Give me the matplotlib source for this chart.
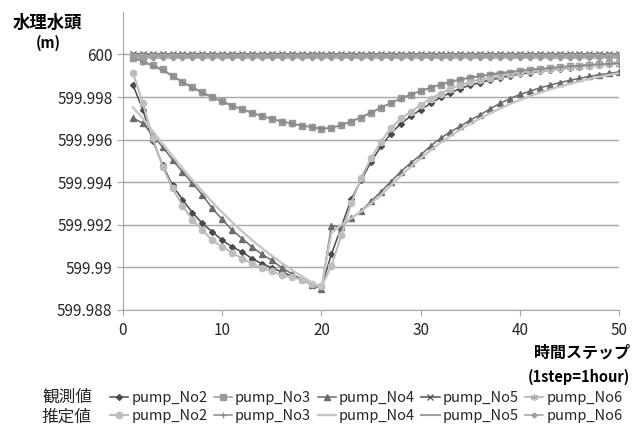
import matplotlib
matplotlib.use("Agg")
import matplotlib.pyplot as plt
from matplotlib.ticker import FuncFormatter

plt.rcParams['font.family'] = ['Noto Sans CJK JP', 'DejaVu Sans']

steps = list(range(1, 51))

obs_no2 = [599.99858, 599.99740, 599.99595, 599.99480, 599.99385, 599.99318, 599.99257, 599.99206, 599.99167, 599.99127,
           599.99096, 599.99072, 599.99041, 599.99017, 599.98998, 599.98978, 599.98959, 599.98943, 599.98923, 599.98907,
           599.99060, 599.99190, 599.99320, 599.99410, 599.99495, 599.99568, 599.99628, 599.99675, 599.99710, 599.99740,
           599.99770, 599.99798, 599.99820, 599.99840, 599.99856, 599.99868, 599.99880, 599.99890, 599.99900, 599.99908,
           599.99915, 599.99921, 599.99927, 599.99932, 599.99937, 599.99942, 599.99946, 599.99950, 599.99954, 599.99957]
est_no2 = [599.99914, 599.99772, 599.99607, 599.99473, 599.99371, 599.99290, 599.99224, 599.99175, 599.99127, 599.99096,
           599.99068, 599.99041, 599.99017, 599.98998, 599.98981, 599.98962, 599.98954, 599.98942, 599.98923, 599.98910,
           599.99005, 599.99150, 599.99300, 599.99419, 599.99513, 599.99590, 599.99653, 599.99700, 599.99730, 599.99762,
           599.99793, 599.99816, 599.99840, 599.99855, 599.99870, 599.99881, 599.99891, 599.99900, 599.99907, 599.99914,
           599.99920, 599.99925, 599.99930, 599.99935, 599.99940, 599.99944, 599.99948, 599.99952, 599.99955, 599.99958]
obs_no3 = [599.99984, 599.99968, 599.99950, 599.99930, 599.99900, 599.99872, 599.99847, 599.99822, 599.99800, 599.99780,
           599.99760, 599.99743, 599.99726, 599.99710, 599.99697, 599.99684, 599.99676, 599.99666, 599.99660, 599.99648,
           599.99655, 599.99667, 599.99684, 599.99703, 599.99725, 599.99749, 599.99772, 599.99794, 599.99811, 599.99827,
           599.99843, 599.99858, 599.99872, 599.99882, 599.99890, 599.99897, 599.99903, 599.99909, 599.99915, 599.99920,
           599.99926, 599.99931, 599.99935, 599.99940, 599.99944, 599.99948, 599.99952, 599.99955, 599.99958, 599.99962]
est_no3 = [599.99986, 599.99966, 599.99946, 599.99925, 599.99898, 599.99870, 599.99844, 599.99820, 599.99798, 599.99778,
           599.99759, 599.99742, 599.99726, 599.99711, 599.99698, 599.99686, 599.99675, 599.99666, 599.99658, 599.99652,
           599.99656, 599.99668, 599.99686, 599.99706, 599.99728, 599.99751, 599.99773, 599.99793, 599.99812, 599.99829,
           599.99845, 599.99859, 599.99872, 599.99883, 599.99892, 599.99900, 599.99907, 599.99913, 599.99919, 599.99924,
           599.99929, 599.99933, 599.99937, 599.99941, 599.99945, 599.99948, 599.99951, 599.99954, 599.99957, 599.99960]
obs_no4 = [599.99700, 599.99678, 599.99620, 599.99565, 599.99505, 599.99448, 599.99395, 599.99340, 599.99277, 599.99225,
           599.99175, 599.99135, 599.99096, 599.99061, 599.99033, 599.98998, 599.98970, 599.98943, 599.98918, 599.98899,
           599.99195, 599.99190, 599.99230, 599.99265, 599.99310, 599.99355, 599.99403, 599.99450, 599.99490, 599.99528,
           599.99570, 599.99606, 599.99637, 599.99662, 599.99692, 599.99716, 599.99745, 599.99770, 599.99793, 599.99812,
           599.99827, 599.99843, 599.99855, 599.99868, 599.99878, 599.99888, 599.99897, 599.99905, 599.99911, 599.99918]
est_no4 = [599.99752, 599.99700, 599.99640, 599.99580, 599.99522, 599.99465, 599.99410, 599.99357, 599.99306, 599.99258,
           599.99212, 599.99169, 599.99128, 599.99090, 599.99054, 599.99020, 599.98988, 599.98958, 599.98930, 599.98905,
           599.99160, 599.99200, 599.99230, 599.99262, 599.99300, 599.99340, 599.99385, 599.99430, 599.99472, 599.99512,
           599.99550, 599.99585, 599.99617, 599.99647, 599.99675, 599.99700, 599.99724, 599.99746, 599.99767, 599.99786,
           599.99804, 599.99820, 599.99835, 599.99849, 599.99862, 599.99874, 599.99885, 599.99895, 599.99904, 599.99912]
obs_no5 = [600.00000, 600.00000, 600.00000, 600.00000, 600.00000, 600.00000, 600.00000, 600.00000, 600.00000, 600.00000,
           600.00000, 600.00000, 600.00000, 600.00000, 600.00000, 600.00000, 600.00000, 600.00000, 600.00000, 600.00000,
           600.00000, 600.00000, 600.00000, 600.00000, 600.00000, 600.00000, 600.00000, 600.00000, 600.00000, 600.00000,
           600.00000, 600.00000, 600.00000, 600.00000, 600.00000, 600.00000, 600.00000, 600.00000, 600.00000, 600.00000,
           600.00000, 600.00000, 600.00000, 600.00000, 600.00000, 600.00000, 600.00000, 600.00000, 600.00000, 600.00000]
obs_no6 = [599.99996, 599.99996, 599.99996, 599.99996, 599.99996, 599.99996, 599.99996, 599.99996, 599.99996, 599.99996,
           599.99996, 599.99996, 599.99996, 599.99996, 599.99996, 599.99996, 599.99996, 599.99996, 599.99996, 599.99996,
           599.99996, 599.99996, 599.99996, 599.99996, 599.99996, 599.99996, 599.99996, 599.99996, 599.99996, 599.99996,
           599.99996, 599.99996, 599.99996, 599.99996, 599.99996, 599.99996, 599.99996, 599.99996, 599.99996, 599.99996,
           599.99996, 599.99996, 599.99996, 599.99996, 599.99996, 599.99996, 599.99996, 599.99996, 599.99996, 599.99996]
est_no5 = [599.99992, 599.99992, 599.99992, 599.99992, 599.99992, 599.99992, 599.99992, 599.99992, 599.99992, 599.99992,
           599.99992, 599.99992, 599.99992, 599.99992, 599.99992, 599.99992, 599.99992, 599.99992, 599.99992, 599.99992,
           599.99992, 599.99992, 599.99992, 599.99992, 599.99992, 599.99992, 599.99992, 599.99992, 599.99992, 599.99992,
           599.99992, 599.99992, 599.99992, 599.99992, 599.99992, 599.99992, 599.99992, 599.99992, 599.99992, 599.99992,
           599.99992, 599.99992, 599.99992, 599.99992, 599.99992, 599.99992, 599.99992, 599.99992, 599.99992, 599.99992]
est_no6 = [599.99985, 599.99985, 599.99985, 599.99985, 599.99985, 599.99985, 599.99985, 599.99985, 599.99985, 599.99985,
           599.99985, 599.99985, 599.99985, 599.99985, 599.99985, 599.99985, 599.99985, 599.99985, 599.99985, 599.99985,
           599.99985, 599.99985, 599.99985, 599.99985, 599.99985, 599.99985, 599.99985, 599.99985, 599.99985, 599.99985,
           599.99985, 599.99985, 599.99985, 599.99985, 599.99985, 599.99985, 599.99985, 599.99985, 599.99985, 599.99985,
           599.99985, 599.99985, 599.99985, 599.99985, 599.99985, 599.99985, 599.99985, 599.99985, 599.99985, 599.99985]

pump_names = ["pump_No2", "pump_No3", "pump_No4", "pump_No5", "pump_No6"]
row_titles = ["観測値", "推定値"]
y_ticks = [599.988, 599.990, 599.992, 599.994, 599.996, 599.998, 600.000]
x_ticks = [0, 10, 20, 30, 40, 50]

fig = plt.figure(figsize=(6.37, 4.25), dpi=100)
ax = fig.add_axes([0.193, 0.271, 0.779, 0.701])

lw = 1.1
h_obs = []
h_est = []
h_obs.append(ax.plot(steps, obs_no2, color="#4a4a4a", lw=lw, marker="D", ms=3, mec="#4a4a4a")[0])
h_obs.append(ax.plot(steps, obs_no3, color="#9a9a9a", lw=lw, marker="s", ms=4.3, mec="#9a9a9a")[0])
h_obs.append(ax.plot(steps, obs_no4, color="#6b6b6b", lw=lw, marker="^", ms=4.5, mec="#6b6b6b")[0])
h_obs.append(ax.plot(steps, obs_no5, color="#505050", lw=lw, marker="x", ms=4, mew=0.9)[0])
h_obs.append(ax.plot(steps, obs_no6, color="#a8a8a8", lw=lw, marker=(6, 2, 0), ms=5, mew=0.9)[0])
h_est.append(ax.plot(steps, est_no2, color="#bdbdbd", lw=lw + 0.4, marker="o", ms=4.5, mec="#bdbdbd")[0])
h_est.append(ax.plot(steps, est_no3, color="#8a8a8a", lw=lw, marker="+", ms=5, mew=0.9)[0])
h_est.append(ax.plot(steps, est_no4, color="#c6c6c6", lw=lw + 0.6)[0])
h_est.append(ax.plot(steps, est_no5, color="#a0a0a0", lw=lw + 0.4)[0])
h_est.append(ax.plot(steps, est_no6, color="#9c9c9c", lw=lw, marker="D", ms=2.5)[0])

ax.set_xlim(0, 50)
ax.set_ylim(599.988, 600.002)
ax.set_xticks(x_ticks)
ax.set_yticks(y_ticks)
ax.yaxis.set_major_formatter(FuncFormatter(lambda v, p: ("%.3f" % v).rstrip("0").rstrip(".")))
ax.grid(axis="y", color="#a6a6a6", lw=1)
ax.set_axisbelow(True)
for s in ["top", "right"]:
    ax.spines[s].set_visible(False)
for s in ["left", "bottom"]:
    ax.spines[s].set_color("#a6a6a6")
ax.tick_params(axis="both", colors="#a6a6a6", labelcolor="#262626", labelsize=11, length=4)
ax.tick_params(axis="x", pad=5)

# axis titles
fig.text(13 / 637, 1 - 23 / 425, "水理水頭", fontsize=12.5, fontweight="bold", va="center", ha="left")
fig.text(48 / 637, 1 - 43 / 425, "(m)", fontsize=10.5, fontweight="bold", va="center", ha="center")
fig.text(630 / 637, 1 - 353 / 425, "時間ステップ", fontsize=11.5, fontweight="bold", va="center", ha="right")
fig.text(630 / 637, 1 - 377 / 425, "(1step=1hour)", fontsize=10.5, fontweight="bold", va="center", ha="right")

# legend: two rows, observed on top, estimated below
handles = []
labels = []
for i in range(5):
    handles += [h_obs[i], h_est[i]]
    labels += [pump_names[i], pump_names[i]]
fig.legend(handles, labels, ncol=5, loc="center left", bbox_to_anchor=(110 / 637, 1 - 407 / 425),
           frameon=False, fontsize=10.5, handlelength=1.25, handletextpad=0.2, columnspacing=0.45,
           labelspacing=0.3, borderpad=0, borderaxespad=0, labelcolor="#262626")
fig.text(42 / 637, 1 - 397 / 425, row_titles[0], fontsize=12, color="#262626", va="center", ha="left")
fig.text(42 / 637, 1 - 417 / 425, row_titles[1], fontsize=12, color="#262626", va="center", ha="left")

fig.savefig("out.png", dpi=100)
